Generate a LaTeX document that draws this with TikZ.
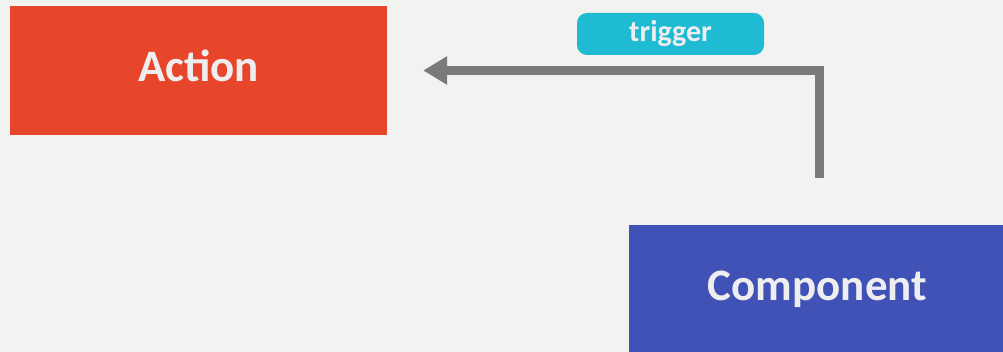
\documentclass[tikz,border=0pt]{standalone}
\usepackage{fontspec}
\setmainfont{Carlito}
\usetikzlibrary{arrows.meta}
\definecolor{bgcol}{HTML}{F2F2F0}
\definecolor{actioncol}{HTML}{E8462A}
\definecolor{compcol}{HTML}{4052B5}
\definecolor{pillcol}{HTML}{1EBBD3}
\definecolor{wirecol}{HTML}{7A7A7A}
\definecolor{labelcol}{HTML}{EEEEF0}
\begin{document}
\begin{tikzpicture}[x=1pt,y=-1pt,
  block/.style={rectangle, draw=none, minimum width=377pt, minimum height=129pt,
    inner sep=0pt, text=labelcol, text height=32pt, text depth=9.6pt,
    font=\fontsize{45}{54}\selectfont\bfseries},
  pill/.style={rectangle, rounded corners=10pt, fill=pillcol, minimum width=187pt,
    minimum height=42pt, inner sep=0pt, text=labelcol, text height=20pt, text depth=4pt,
    font=\fontsize{30}{36}\selectfont\bfseries},
  wire/.style={draw=wirecol, line width=9pt,
    -{Triangle[length=24pt,width=27pt]}}]
  % canvas
  \fill[bgcol] (0,0) rectangle (1003,352);
  \useasboundingbox (0,0) rectangle (1003,352);
  \begin{scope}
    \clip (0,0) rectangle (1003,352);
    \node[block, fill=actioncol] (action) at (198.5,70.5) {Action};
    \node[block, fill=compcol] (component) at (817.5,289.5) {Component};
  \end{scope}
  % trigger connector from above the component back to the action
  \coordinate (src) at (819.5,178);
  \path[wire] (src) |- ([xshift=36pt]action.east);
  \node[pill] (trigger) at (670.5,34) {trigger};
\end{tikzpicture}
\end{document}
